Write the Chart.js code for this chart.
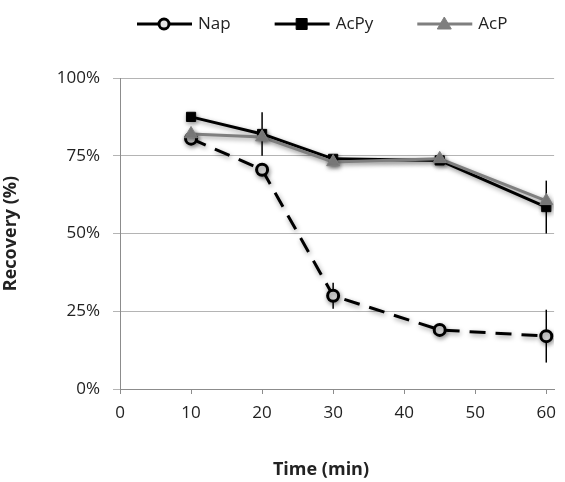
<!DOCTYPE html>
<html>
<head>
<meta charset="utf-8">
<script src="https://cdn.jsdelivr.net/npm/chart.js@4.4.1/dist/chart.umd.min.js"></script>
<style>
  html, body { margin: 0; padding: 0; background: #fff; }
  canvas { display: block; }
</style>
</head>
<body>
<canvas id="recoveryChart" width="565" height="482"></canvas>
<script>
// sampling times (min)
const times = [10, 20, 30, 45, 60];

// recovery (%) per compound
const napValues = [80.5, 70.5, 30, 19, 17];
const acpyValues = [87.5, 82, 74, 73.5, 58.5];
const acpValues = [82, 81, 73, 74, 60.5];

// standard deviation (%) per compound
const napErrors = [1, 1.5, 4.2, 1.5, 8.5];
const acpyErrors = [1, 7, 1, 1, 8.5];
const acpErrors = [1, 1, 1, 1, 1];

const xTicks = [0, 10, 20, 30, 40, 50, 60];
const yTicks = [0, 25, 50, 75, 100];

const FONT = "'Open Sans', 'Liberation Sans', sans-serif";
const GREY = '#7f7f7f';

function toPoints(values) {
    return times.map((t, i) => ({ x: t, y: values[i] }));
}

// vertical error bars, drawn from the dataset's own errors array
const errorBarPlugin = {
    id: 'errorBars',
    beforeDatasetsDraw(chart) {
        const ctx = chart.ctx;
        const xs = chart.scales.x;
        const ys = chart.scales.y;
        ctx.save();
        chart.data.datasets.forEach(ds => {
            ctx.strokeStyle = ds.errorColor;
            ctx.lineWidth = 1.5;
            ds.data.forEach((p, i) => {
                const err = ds.errors[i];
                const px = xs.getPixelForValue(p.x);
                ctx.beginPath();
                ctx.moveTo(px, ys.getPixelForValue(p.y + err));
                ctx.lineTo(px, ys.getPixelForValue(p.y - err));
                ctx.stroke();
            });
        });
        ctx.restore();
    }
};

// soft drop shadow under lines and markers
const shadowPlugin = {
    id: 'shadow',
    beforeDatasetDraw(chart) {
        const ctx = chart.ctx;
        ctx.save();
        ctx.shadowColor = 'rgba(0,0,0,0.4)';
        ctx.shadowBlur = 5;
        ctx.shadowOffsetX = 1;
        ctx.shadowOffsetY = 2;
    },
    afterDatasetDraw(chart) {
        chart.ctx.restore();
    }
};

// legend with line samples above the plot, plus the time axis title
const lineLegendPlugin = {
    id: 'lineLegend',
    afterDraw(chart) {
        const ctx = chart.ctx;
        const y = 24;
        let x = 137;
        ctx.save();
        ctx.font = '17px ' + FONT;
        ctx.textBaseline = 'middle';
        chart.data.datasets.forEach(ds => {
            ctx.strokeStyle = ds.borderColor;
            ctx.lineWidth = 3;
            ctx.beginPath();
            ctx.moveTo(x, y);
            ctx.lineTo(x + 55, y);
            ctx.stroke();
            const mx = x + 27;
            ctx.fillStyle = ds.pointBackgroundColor;
            ctx.strokeStyle = ds.pointBorderColor;
            ctx.lineWidth = ds.pointBorderWidth;
            ctx.beginPath();
            if (ds.pointStyle === 'circle') {
                ctx.arc(mx, y, 5, 0, Math.PI * 2);
            } else if (ds.pointStyle === 'rect') {
                ctx.rect(mx - 5.5, y - 5.5, 11, 11);
            } else {
                ctx.moveTo(mx, y - 7);
                ctx.lineTo(mx + 7, y + 5);
                ctx.lineTo(mx - 7, y + 5);
                ctx.closePath();
            }
            ctx.fill();
            ctx.stroke();
            ctx.fillStyle = '#222';
            ctx.fillText(ds.label, x + 61, y);
            x += 61 + ctx.measureText(ds.label).width + 44;
        });

        ctx.font = 'bold 18px ' + FONT;
        ctx.textAlign = 'center';
        ctx.fillText('Time (min)', 321, 470);
        ctx.restore();
    }
};

const ctx = document.getElementById('recoveryChart').getContext('2d');
new Chart(ctx, {
    type: 'line',
    data: {
        datasets: [
            {
                label: 'Nap',
                data: toPoints(napValues),
                errors: napErrors,
                errorColor: '#000',
                borderColor: '#000',
                borderWidth: 3,
                borderDash: [16, 10],
                pointStyle: 'circle',
                pointRadius: 5.5,
                pointBackgroundColor: '#e4e4e4',
                pointBorderColor: '#000',
                pointBorderWidth: 3,
                order: 3
            },
            {
                label: 'AcPy',
                data: toPoints(acpyValues),
                errors: acpyErrors,
                errorColor: '#000',
                borderColor: '#000',
                borderWidth: 3,
                pointStyle: 'rect',
                pointRadius: 6.5,
                pointBackgroundColor: '#000',
                pointBorderColor: '#000',
                pointBorderWidth: 1,
                order: 2
            },
            {
                label: 'AcP',
                data: toPoints(acpValues),
                errors: acpErrors,
                errorColor: GREY,
                borderColor: GREY,
                borderWidth: 3,
                pointStyle: 'triangle',
                pointRadius: 7.5,
                pointBackgroundColor: GREY,
                pointBorderColor: GREY,
                pointBorderWidth: 1,
                order: 1
            }
        ]
    },
    options: {
        responsive: false,
        animation: false,
        layout: { autoPadding: false, padding: { top: 78, right: 0, left: 0, bottom: 0 } },
        plugins: {
            legend: { display: false },
            tooltip: { enabled: false }
        },
        scales: {
            x: {
                type: 'linear',
                min: 0,
                max: 61.1,
                afterBuildTicks: s => { s.ticks = xTicks.map(v => ({ value: v })); },
                afterFit: s => { s.height = 93; },
                grid: { drawOnChartArea: false, tickLength: 5, color: '#8c8c8c' },
                border: { color: '#8c8c8c', width: 1 },
                ticks: { color: '#222', padding: 9, maxRotation: 0, font: { family: FONT, size: 17 } },
                title: { display: false }
            },
            y: {
                min: 0,
                max: 100,
                afterBuildTicks: s => { s.ticks = yTicks.map(v => ({ value: v })); },
                afterFit: s => { s.width = 120; },
                grid: { color: '#b4b4b4', tickLength: 7 },
                border: { color: '#8c8c8c', width: 1 },
                ticks: {
                    color: '#222',
                    padding: 13,
                    font: { family: FONT, size: 17 },
                    callback: v => v + '%'
                },
                title: {
                    display: true,
                    text: 'Recovery (%)',
                    color: '#222',
                    padding: { top: 0, bottom: 4 },
                    font: { family: FONT, size: 18, weight: 'bold' }
                }
            }
        }
    },
    plugins: [errorBarPlugin, shadowPlugin, lineLegendPlugin]
});
</script>
</body>
</html>
